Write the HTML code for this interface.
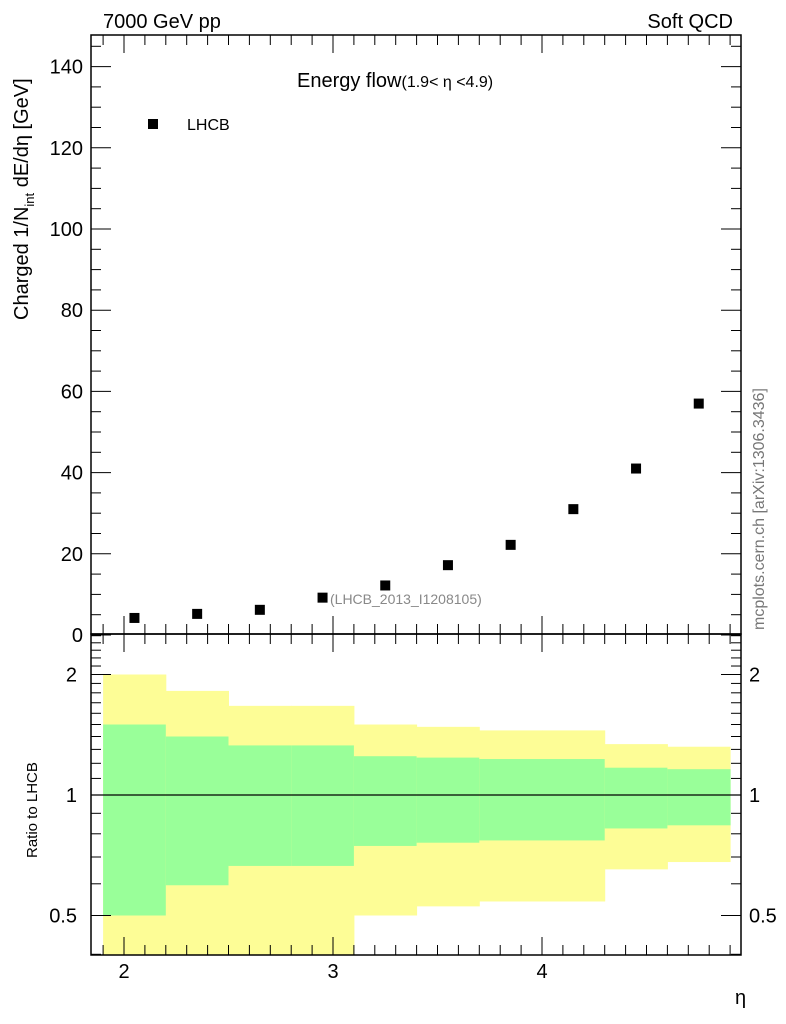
<!DOCTYPE html>
<html><head><meta charset="utf-8"><style>
html,body{margin:0;padding:0;background:#fff;}
svg{display:block;font-family:"Liberation Sans",sans-serif;}
</style></head><body>
<svg id="c" width="786" height="1024" viewBox="0 0 786 1024"></svg>
<script>
const etaCenters=[2.05,2.35,2.65,2.95,3.25,3.55,3.85,4.15,4.45,4.75];
const energyValues=[4.2,5.2,6.2,9.2,12.2,17.2,22.2,31,41,57];
const binEdges=[1.9,2.2,2.5,2.8,3.1,3.4,3.7,4.0,4.3,4.6,4.9];
const yellowUp=[2.0,1.82,1.67,1.67,1.5,1.48,1.45,1.45,1.34,1.32];
const greenUp=[1.5,1.40,1.33,1.33,1.25,1.24,1.23,1.23,1.17,1.16];
const greenLo=[0.5,0.595,0.665,0.665,0.746,0.76,0.77,0.77,0.825,0.84];
const yellowLo=[0.3,0.3,0.3,0.3,0.5,0.527,0.542,0.542,0.652,0.68];
const xTicks=[2,3,4];
const yTicks=[0,20,40,60,80,100,120,140];
const rTicks=[0.5,1,2];

const NS="http://www.w3.org/2000/svg";
const svg=document.getElementById('c');
const L=91,R=741,T=35,B=634,RT=634,RB=955;
const X=v=>124+(v-2)*209;
const Y=v=>635-v*4.06;
const RY=v=>795-120.5*Math.log2(v);
function mk(tag,attrs,parent){const e=document.createElementNS(NS,tag);for(const k in attrs)e.setAttribute(k,attrs[k]);(parent||svg).appendChild(e);return e;}
function txt(s,attrs){const e=mk('text',attrs);e.textContent=s;return e;}
function line(x1,y1,x2,y2,w){return mk('line',{x1,y1,x2,y2,stroke:'#000','stroke-width':w||1});}

// ratio bands
const bands=mk('g',{});


const clip=mk('clipPath',{id:'rc'});mk('rect',{x:L,y:RT,width:R-L,height:RB-RT},clip);
bands.setAttribute('clip-path','url(#rc)');
for(let i=0;i<etaCenters.length;i++){
  const x1=X(binEdges[i]),x2=X(binEdges[i+1]);
  const y=mk('rect',{x:x1,y:RY(yellowUp[i]),width:x2-x1+0.5,height:RY(yellowLo[i])-RY(yellowUp[i]),fill:'#fdfd96'},bands);
  
  
  const g=mk('rect',{x:x1,y:RY(greenUp[i]),width:x2-x1+0.5,height:RY(greenLo[i])-RY(greenUp[i]),fill:'#99ff99'},bands);
  
  
}
const one=line(L,RY(1),R,RY(1),1.2);



// frames
mk('rect',{x:L,y:T,width:R-L,height:B-T,fill:'none',stroke:'#000','stroke-width':1.5});
mk('rect',{x:L,y:RT,width:R-L,height:RB-RT,fill:'none',stroke:'#000','stroke-width':1.5});

// x ticks
for(let v=1.9;v<=4.95;v+=0.1){
  const vv=Math.round(v*10)/10;const maj=Math.abs(vv-Math.round(vv))<1e-6;
  const x=X(vv);if(x<L||x>R)continue;const len=maj?18:10;
  line(x,B,x,B-len);line(x,T,x,T+len);line(x,RB,x,RB-len);line(x,RT,x,RT+len);
}
xTicks.forEach(v=>{const t=txt(String(v),{x:X(v),y:978,'font-size':20,'text-anchor':'middle'});
 });
// y ticks main
for(let v=0;v<=147;v+=5){const y=Y(v);const maj=v%20===0;const len=maj?20:10;
  line(L,y,L+len,y);line(R,y,R-len,y);}
yTicks.forEach(v=>{const t=txt(String(v),{x:83,y:Y(v)+7,'font-size':20,'text-anchor':'end'});
 });
// ratio ticks
const rminor=[0.4,0.6,0.7,0.8,0.9,1.1,1.2,1.3,1.4,1.5,1.6,1.7,1.8,1.9,2.1,2.2,2.3,2.4,2.5];
rminor.forEach(v=>{const y=RY(v);if(y<RT||y>RB)return;line(L,y,L+10,y);line(R,y,R-10,y);});
rTicks.forEach(v=>{const y=RY(v);line(L,y,L+20,y);line(R,y,R-20,y);
 const a=txt(String(v),{x:77,y:y+7,'font-size':20,'text-anchor':'end'});
 
 const b=txt(String(v),{x:749,y:y+7,'font-size':20});
 });

// data points
etaCenters.forEach((e,i)=>{const r=mk('rect',{x:X(e)-5,y:Y(energyValues[i])-5,width:10,height:10,fill:'#000'});
 });
</script>
<svg width="786" height="1024" style="position:absolute;left:0;top:0" font-family="Liberation Sans, sans-serif">
<text x="103" y="28" font-size="20">7000 GeV pp</text>
<text x="733" y="28" font-size="20" text-anchor="end">Soft QCD</text>
<text x="297" y="87" font-size="20">Energy flow<tspan font-size="16">(1.9&lt; η &lt;4.9)</tspan></text>
<rect x="148" y="119" width="10" height="10" fill="#000"/>
<text x="187" y="130" font-size="16">LHCB</text>
<text x="330" y="604" font-size="14" fill="#888">(LHCB_2013_I1208105)</text>
<text transform="translate(28,320) rotate(-90)" font-size="20">Charged 1/N<tspan font-size="13" dy="6">int</tspan><tspan dy="-6"> dE/dη [GeV]</tspan></text>
<text transform="translate(37,858) rotate(-90)" font-size="15">Ratio to LHCB</text>
<text transform="translate(764,630) rotate(-90)" font-size="16" fill="#777">mcplots.cern.ch [arXiv:1306.3436]</text>
<text x="735" y="1004" font-size="20">η</text>
</svg>
</body></html>
